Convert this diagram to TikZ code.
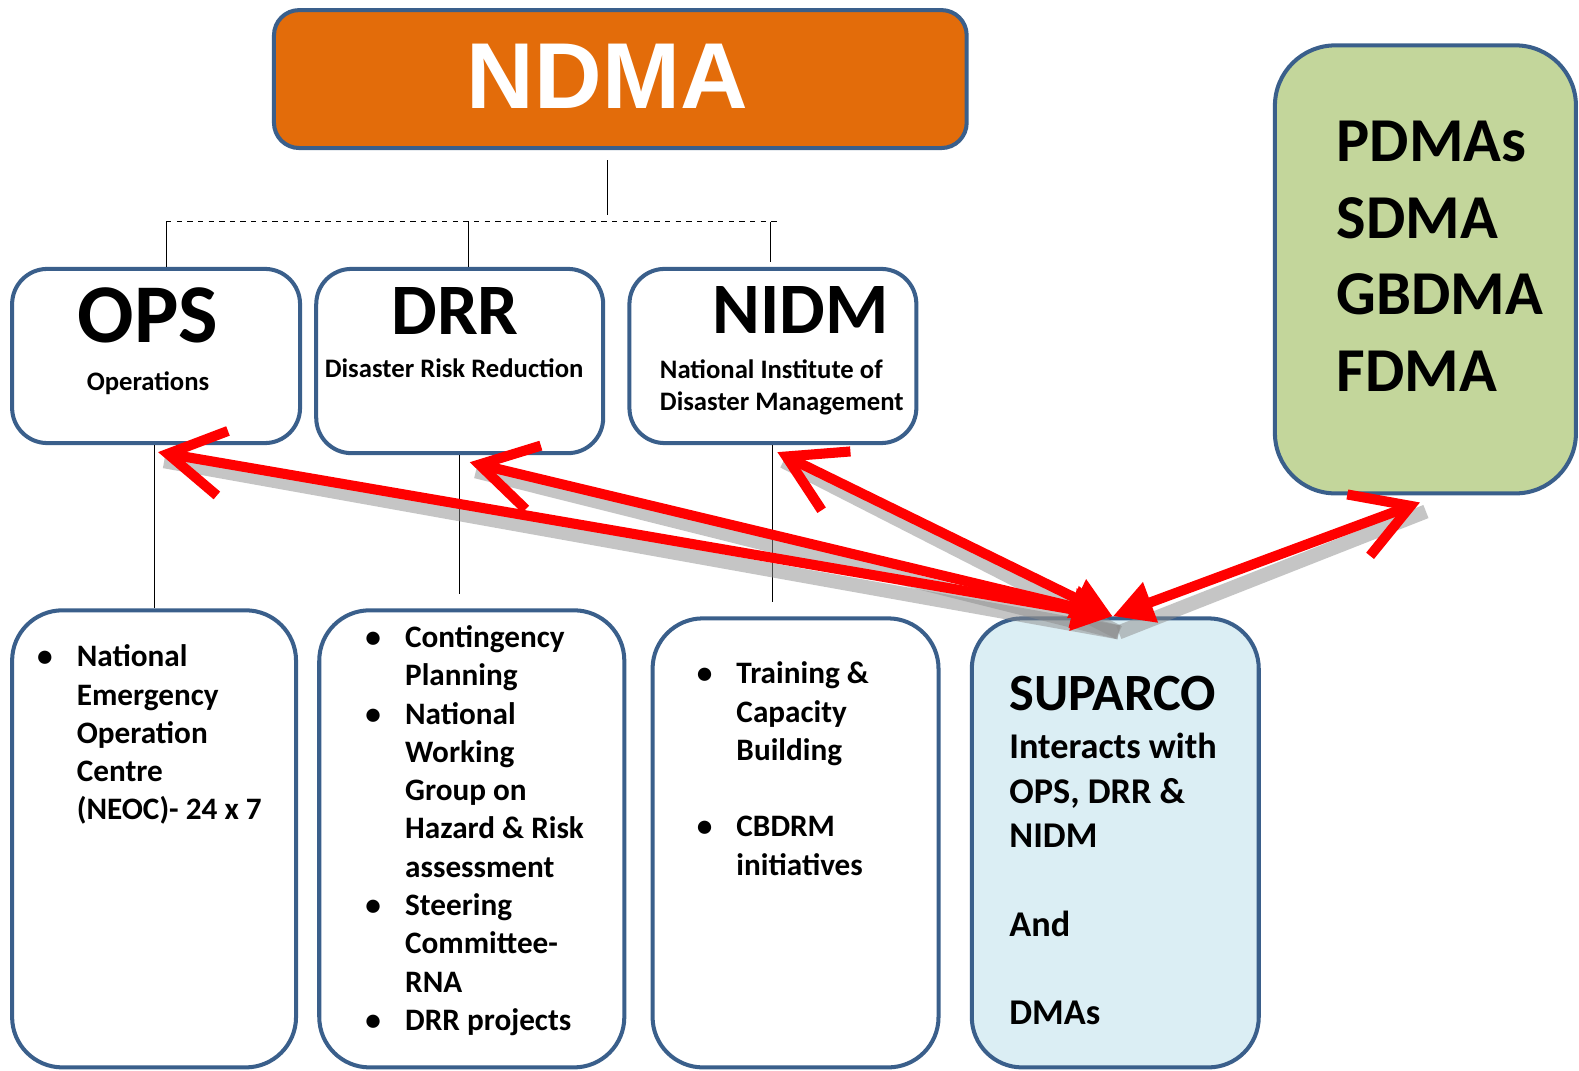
\documentclass[tikz,border=0pt]{standalone}
\usepackage{fontspec}
\setmainfont{Carlito}
\newfontfamily\headfont{Liberation Sans}
\usepackage{xcolor}
\usepackage{tikz}
\usetikzlibrary{arrows.meta, positioning, calc}
\definecolor{ndmaorange}{HTML}{E36C0A}
\definecolor{edgeblue}{HTML}{3A5F8B}
\definecolor{pdmagreen}{HTML}{C3D69B}
\definecolor{suparcoblue}{HTML}{DBEEF4}
\newcommand{\blt}{\llap{\textbullet\hspace{0.48cm}}}
\tikzset{
    orgbox/.style={rectangle, draw=edgeblue, line width=0.08cm, rounded corners=0.7cm, fill=white, inner sep=0pt},
    listbox/.style={orgbox, rounded corners=1cm},
    tree/.style={black, line width=0.6pt},
    bus/.style={tree, dashed},
    link/.style={red, line width=0.2cm, {Straight Barb[length=1.1cm, width=1.3cm]}-{Triangle[length=0.8cm, width=0.8cm]}},
    linkshadow/.style={black!45, opacity=0.5, line width=0.28cm, transform canvas={shift={(0.12cm,-0.32cm)}}},
    opstext/.style={font=\fontsize{1.66cm}{2cm}\selectfont\bfseries, inner sep=0pt},
    headtext/.style={font=\fontsize{1.44cm}{1.7cm}\selectfont\bfseries, inner sep=0pt},
    subtext/.style={font=\fontsize{0.53cm}{0.64cm}\selectfont\bfseries, inner sep=0pt, align=left},
    pdmatext/.style={font=\fontsize{1.24cm}{1.52cm}\selectfont\bfseries, inner sep=0pt, align=left, anchor=north west},
    listtext/.style={font=\fontsize{0.62cm}{0.76cm}\selectfont\bfseries, inner sep=0pt, align=left, anchor=north west},
    suptitle/.style={font=\fontsize{1.04cm}{1.2cm}\selectfont\bfseries, inner sep=0pt, anchor=north west},
    suptext/.style={font=\fontsize{0.72cm}{0.88cm}\selectfont\bfseries, inner sep=0pt, align=left, anchor=north west},
}

\begin{document}
\begin{tikzpicture}[x=0.02cm, y=-0.02cm]
\useasboundingbox (0,0) rectangle (1568,1063);

% Top level
\node[orgbox, fill=ndmaorange, rounded corners=0.5cm, minimum width=13.76cm, minimum height=2.74cm] (ndma) at (616,78.5) {};
\node[font=\headfont\fontsize{1.86cm}{2cm}\selectfont\bfseries, text=white, inner sep=0pt, anchor=base] (ndmat) at (603,108) {NDMA};

% Wings
\node[orgbox, minimum width=5.72cm, minimum height=3.46cm] (ops) at (155,353.5) {};
\node[orgbox, minimum width=5.7cm, minimum height=3.66cm] (drr) at (456.5,358.5) {};
\node[orgbox, minimum width=5.7cm, minimum height=3.46cm] (nidm) at (767.5,353.5) {};
\node[orgbox, fill=pdmagreen, rounded corners=1.2cm, minimum width=5.98cm, minimum height=8.9cm] (pdma) at (1415.5,267.5) {};

% Function boxes
\node[listbox, minimum width=5.64cm, minimum height=9.08cm] (opsl) at (153,833) {};
\node[listbox, minimum width=6.06cm, minimum height=9.08cm] (drrl) at (468.5,833) {};
\node[listbox, minimum width=5.68cm, minimum height=8.92cm] (nidml) at (790,837) {};
\node[listbox, fill=suparcoblue, minimum width=5.7cm, minimum height=8.92cm] (sup) at (1107.5,837) {};

% Tree lines
\coordinate (hub) at (603,213);
\coordinate (busl) at (165,220);
\coordinate (busm) at (465,220);
\coordinate (busr) at (773,220);
\draw[tree] ([yshift=-0.2cm]ndma.south -| hub) -- (hub);
\draw[bus] (busl) -- (busr);
\draw[tree] (busl) -- (busl |- ops.north);
\draw[tree] (busm) -- (busm |- drr.north);
\draw[tree] ([xshift=-0.16cm]busr) -- ([xshift=-0.16cm,yshift=0.1cm]busr |- nidm.north);
\draw[tree] ([xshift=-0.04cm]ops.south) -- ([xshift=-0.04cm]ops.south |- opsl.north);
\draw[tree] (drr.south) -- ([yshift=0.28cm]drr.south |- drrl.north);
\draw[tree] (nidm.south) -- ([yshift=0.28cm]nidm.south |- nidml.north);

% Labels
\node[opstext, anchor=base] (opst) at (147,340) {OPS};
\node[subtext, anchor=base] (opss) at (147,388) {Operations};
\node[headtext, anchor=base] (drrt) at (452,332) {DRR};
\node[subtext, anchor=base] (drrs) at (451,375) {Disaster Risk Reduction};
\node[headtext, anchor=base] (nidmt) at (795,331) {NIDM};
\node[subtext, anchor=north west] (nidms) at (655,357) {National Institute of\\Disaster Management};
\node[pdmatext] (pdmat) at (1327,120) {PDMAs\\SDMA\\GBDMA\\FDMA};

\node[listtext] (opsitems) at (76,640) {\blt National\\Emergency\\Operation\\Centre\\(NEOC)- 24 x 7};
\node[listtext] (drritems) at (402,621) {\blt Contingency\\Planning\\\blt National\\Working\\Group on\\Hazard \& Risk\\assessment\\\blt Steering\\Committee-\\RNA\\\blt DRR projects};
\node[listtext] (nidmitems) at (731,657) {\blt Training \&\\Capacity\\Building\\[0.76cm]\blt CBDRM\\initiatives};
\node[suptitle] (supt) at (1002,671) {SUPARCO};
\node[suptext] (supx) at (1002,728) {Interacts with\\OPS, DRR \&\\NIDM\\[0.88cm]And\\[0.88cm]DMAs};

% Interaction arrows
\coordinate (supin) at (1105,612);
\foreach \from/\dx in {ops/0.04cm, drr/0.2cm, nidm/0.09cm, pdma/-0.11cm} {
    \draw[linkshadow] ([xshift=\dx]\from.south) -- (supin);
}
\foreach \from/\dx in {ops/0.04cm, drr/0.2cm, nidm/0.09cm, pdma/-0.11cm} {
    \draw[link] ([xshift=\dx, yshift=-0.14cm]\from.south) -- (supin);
}

\end{tikzpicture}
\end{document}
